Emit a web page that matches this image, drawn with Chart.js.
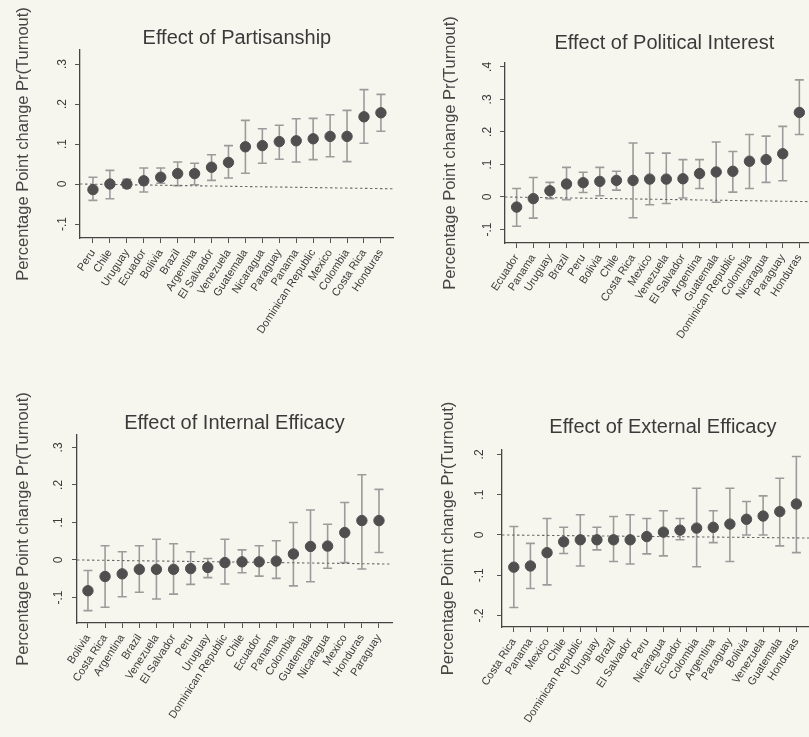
<!DOCTYPE html>
<html>
<head>
<meta charset="utf-8">
<script src="https://cdn.jsdelivr.net/npm/chart.js@4"></script>
<style>
  html, body { margin: 0; padding: 0; background: #f7f6ee; overflow: hidden; }
  body { width: 809px; height: 737px; position: relative; }
  .panel { position: absolute; }
</style>
</head>
<body>
<div class="panel" style="left:0;top:0"><canvas id="c1" width="400" height="358"></canvas></div>
<div class="panel" style="left:400px;top:0"><canvas id="c2" width="430" height="363"></canvas></div>
<div class="panel" style="left:0;top:380px"><canvas id="c3" width="400" height="363"></canvas></div>
<div class="panel" style="left:400px;top:380px"><canvas id="c4" width="430" height="367"></canvas></div>
<script>
// Efecto en puntos porcentuales sobre Pr(Turnout), estimación + intervalo, por país

// --- Partisanship
const partCountries = ['Peru', 'Chile', 'Uruguay', 'Ecuador', 'Bolivia', 'Brazil', 'Argentina', 'El Salvador', 'Venezuela',
  'Guatemala', 'Nicaragua', 'Paraguay', 'Panama', 'Dominican Republic', 'Mexico', 'Colombia', 'Costa Rica', 'Honduras'];
const partEst = [-0.014, 0.0, 0.0, 0.008, 0.017, 0.026, 0.026, 0.042, 0.054, 0.093, 0.096, 0.106, 0.108, 0.113, 0.119, 0.119, 0.168, 0.178];
const partLo = [-0.041, -0.037, -0.01, -0.02, 0.002, -0.004, -0.002, 0.009, 0.015, 0.027, 0.052, 0.062, 0.055, 0.061, 0.068, 0.056, 0.102, 0.132];
const partHi = [0.017, 0.034, 0.012, 0.04, 0.04, 0.055, 0.052, 0.073, 0.096, 0.159, 0.138, 0.147, 0.163, 0.164, 0.173, 0.184, 0.236, 0.224];

// --- Political interest
const intCountries = ['Ecuador', 'Panama', 'Uruguay', 'Brazil', 'Peru', 'Bolivia', 'Chile', 'Costa Rica', 'Mexico', 'Venezuela',
  'El Salvador', 'Argentina', 'Guatemala', 'Dominican Republic', 'Colombia', 'Nicaragua', 'Paraguay', 'Honduras'];
const intEst = [-0.031, -0.005, 0.019, 0.04, 0.044, 0.048, 0.051, 0.051, 0.055, 0.055, 0.056, 0.072, 0.077, 0.079, 0.11, 0.115, 0.133, 0.26];
const intLo = [-0.09, -0.065, -0.005, -0.008, 0.014, 0.004, 0.021, -0.064, -0.024, -0.02, -0.003, 0.026, -0.016, 0.015, 0.026, 0.045, 0.05, 0.192];
const intHi = [0.026, 0.06, 0.045, 0.091, 0.076, 0.091, 0.079, 0.166, 0.135, 0.135, 0.115, 0.115, 0.169, 0.14, 0.192, 0.187, 0.217, 0.36];

// --- Internal efficacy
const ieCountries = ['Bolivia', 'Costa Rica', 'Argentina', 'Brazil', 'Venezuela', 'El Salvador', 'Peru', 'Uruguay', 'Dominican Republic',
  'Chile', 'Ecuador', 'Panama', 'Colombia', 'Guatemala', 'Nicaragua', 'Mexico', 'Honduras', 'Paraguay'];
const ieEst = [-0.082, -0.044, -0.037, -0.025, -0.025, -0.025, -0.023, -0.02, -0.007, -0.005, -0.005, -0.003, 0.016, 0.036, 0.037, 0.073, 0.105, 0.105];
const ieLo = [-0.135, -0.126, -0.098, -0.086, -0.104, -0.091, -0.065, -0.047, -0.064, -0.034, -0.043, -0.049, -0.069, -0.058, -0.022, -0.007, -0.024, 0.02];
const ieHi = [-0.028, 0.038, 0.022, 0.038, 0.055, 0.043, 0.022, 0.004, 0.055, 0.027, 0.038, 0.051, 0.1, 0.133, 0.095, 0.153, 0.227, 0.188];

// --- External efficacy
const eeCountries = ['Costa Rica', 'Panama', 'Mexico', 'Chile', 'Dominican Republic', 'Uruguay', 'Brazil', 'El Salvador', 'Peru',
  'Nicaragua', 'Ecuador', 'Colombia', 'Argentina', 'Paraguay', 'Bolivia', 'Venezuela', 'Guatemala', 'Honduras'];
const eeEst = [-0.08, -0.077, -0.044, -0.017, -0.012, -0.012, -0.012, -0.012, -0.004, 0.007, 0.012, 0.017, 0.019, 0.027, 0.039, 0.047, 0.058, 0.077];
const eeLo = [-0.18, -0.133, -0.124, -0.046, -0.077, -0.037, -0.066, -0.072, -0.047, -0.052, -0.012, -0.079, -0.019, -0.066, 0.0, 0.0, -0.027, -0.044];
const eeHi = [0.021, -0.021, 0.041, 0.019, 0.05, 0.019, 0.046, 0.05, 0.041, 0.06, 0.041, 0.116, 0.06, 0.116, 0.083, 0.097, 0.141, 0.195];

// línea de referencia en 0 (la página escaneada está algo torcida)
const zeroLine1 = [0, -0.012];
const zeroLine2 = [0, -0.015];
const zeroLine3 = [0, -0.011];
const zeroLine4 = [0, -0.008];

// ticks del eje y (estilo Stata)
const yTicks1 = [-0.1, 0, 0.1, 0.2, 0.3];
const yLabels1 = ['-.1', '0', '.1', '.2', '.3'];
const yTicks2 = [-0.1, 0, 0.1, 0.2, 0.3, 0.4];
const yLabels2 = ['-.1', '0', '.1', '.2', '.3', '.4'];
const yTicks3 = [-0.1, 0, 0.1, 0.2, 0.3];
const yLabels3 = ['-.1', '0', '.1', '.2', '.3'];
const yTicks4 = [-0.2, -0.1, 0, 0.1, 0.2];
const yLabels4 = ['-.2', '-.1', '0', '.1', '.2'];

const FONT = '"Liberation Sans", Arial, Helvetica, sans-serif';
const INK = '#3a3a3a';

// barras de error (bigotes + topes) dibujadas con las escalas del gráfico
const whiskers = {
  id: 'whiskers',
  beforeDatasetsDraw(chart, args, opts) {
    const { ctx, scales: { x, y } } = chart;
    ctx.save();
    ctx.strokeStyle = '#9b9b9b';
    ctx.lineWidth = 1.6;
    opts.lo.forEach((l, i) => {
      const px = x.getPixelForValue(i);
      const y1 = y.getPixelForValue(l);
      const y2 = y.getPixelForValue(opts.hi[i]);
      ctx.beginPath();
      ctx.moveTo(px, y1); ctx.lineTo(px, y2);
      ctx.moveTo(px - 4.5, y1); ctx.lineTo(px + 4.5, y1);
      ctx.moveTo(px - 4.5, y2); ctx.lineTo(px + 4.5, y2);
      ctx.stroke();
    });
    ctx.restore();
  },
};

// etiquetas del eje y giradas 90°
const yTickText = {
  id: 'yTickText',
  afterDraw(chart, args, opts) {
    const s = chart.scales.y;
    const ctx = chart.ctx;
    ctx.save();
    ctx.font = '12px ' + FONT;
    ctx.fillStyle = INK;
    ctx.textAlign = 'center';
    ctx.textBaseline = 'middle';
    opts.values.forEach((v, i) => {
      ctx.save();
      ctx.translate(s.right - opts.gap, s.getPixelForValue(v));
      ctx.rotate(-Math.PI / 2);
      ctx.fillText(opts.labels[i], 0, 0);
      ctx.restore();
    });
    ctx.restore();
  },
};

function renderPanel(id, p) {
  return new Chart(document.getElementById(id), {
    type: 'scatter',
    data: {
      datasets: [
        {
          data: p.est.map((v, i) => ({ x: i, y: v })),
          backgroundColor: '#4f4f4f',
          borderColor: '#4f4f4f',
          pointRadius: 5.2,
          pointHoverRadius: 5.2,
          order: 1,
        },
        {
          data: [{ x: p.xMin, y: p.zero[0] }, { x: p.xMax, y: p.zero[1] }],
          showLine: true,
          borderColor: '#6a6a6a',
          borderWidth: 1.1,
          borderDash: [2.5, 2.5],
          pointRadius: 0,
          order: 2,
        },
      ],
    },
    options: {
      responsive: false,
      animation: false,
      events: [],
      layout: { padding: p.pad },
      plugins: {
        legend: { display: false },
        tooltip: { enabled: false },
        title: {
          display: true,
          text: p.title,
          fullSize: false,
          color: INK,
          font: { family: FONT, size: 20, weight: 'normal', lineHeight: 1.2 },
          padding: { top: 0, bottom: p.titleGap },
        },
        whiskers: { lo: p.lo, hi: p.hi },
        yTickText: { values: p.yTicks, labels: p.yLabels, gap: p.yGap },
      },
      scales: {
        x: {
          type: 'linear',
          min: p.xMin,
          max: p.xMax,
          afterBuildTicks: (s) => { s.ticks = p.countries.map((_, i) => ({ value: i })); },
          afterFit: (s) => { s.height = 120; },
          grid: { drawOnChartArea: false, drawTicks: true, tickLength: 5, color: '#555', lineWidth: 1 },
          border: { display: true, color: '#444', width: 1.3 },
          ticks: {
            autoSkip: false,
            minRotation: 57,
            maxRotation: 57,
            padding: 4,
            color: INK,
            font: { family: FONT, size: 11 },
            callback: (v) => p.countries[v] ?? '',
          },
        },
        y: {
          min: p.yMin,
          max: p.yMax,
          afterBuildTicks: (s) => { s.ticks = p.yTicks.map((v) => ({ value: v })); },
          afterFit: (s) => { s.width = p.yW; },
          grid: { drawOnChartArea: false, drawTicks: true, tickLength: 5, color: '#555', lineWidth: 1 },
          border: { display: true, color: '#444', width: 1.3 },
          ticks: { display: false },
          title: {
            display: true,
            text: 'Percentage Point change Pr(Turnout)',
            color: '#454545',
            font: { family: FONT, size: 16.5, lineHeight: 1.2 },
            padding: { top: 14, bottom: 0 },
          },
        },
      },
    },
    plugins: [whiskers, yTickText],
  });
}

renderPanel('c1', {
  title: 'Effect of Partisanship',
  countries: partCountries, est: partEst, lo: partLo, hi: partHi, zero: zeroLine1,
  yTicks: yTicks1, yLabels: yLabels1,
  xMin: -0.765, xMax: 17.76, yMin: -0.135, yMax: 0.335,
  pad: { left: 0, top: 26, right: 5, bottom: 0 }, titleGap: 0, yW: 80, yGap: 17,
});

renderPanel('c2', {
  title: 'Effect of Political Interest',
  countries: intCountries, est: intEst, lo: intLo, hi: intHi, zero: zeroLine2,
  yTicks: yTicks2, yLabels: yLabels2,
  xMin: -0.7, xMax: 18.47, yMin: -0.1415, yMax: 0.412,
  pad: { left: 27, top: 31, right: 0, bottom: 0 }, titleGap: 8, yW: 78, yGap: 17,
});

renderPanel('c3', {
  title: 'Effect of Internal Efficacy',
  countries: ieCountries, est: ieEst, lo: ieLo, hi: ieHi, zero: zeroLine3,
  yTicks: yTicks3, yLabels: yLabels3,
  xMin: -0.64, xMax: 17.76, yMin: -0.168, yMax: 0.333,
  pad: { left: 0, top: 31, right: 8, bottom: 0 }, titleGap: 0, yW: 77, yGap: 18,
});

renderPanel('c4', {
  title: 'Effect of External Efficacy',
  countries: eeCountries, est: eeEst, lo: eeLo, hi: eeHi, zero: zeroLine4,
  yTicks: yTicks4, yLabels: yLabels4,
  xMin: -0.71, xMax: 18.65, yMin: -0.2286, yMax: 0.211,
  pad: { left: 25, top: 35, right: 0, bottom: 0 }, titleGap: 11, yW: 77, yGap: 22,
});
</script>
</body>
</html>
